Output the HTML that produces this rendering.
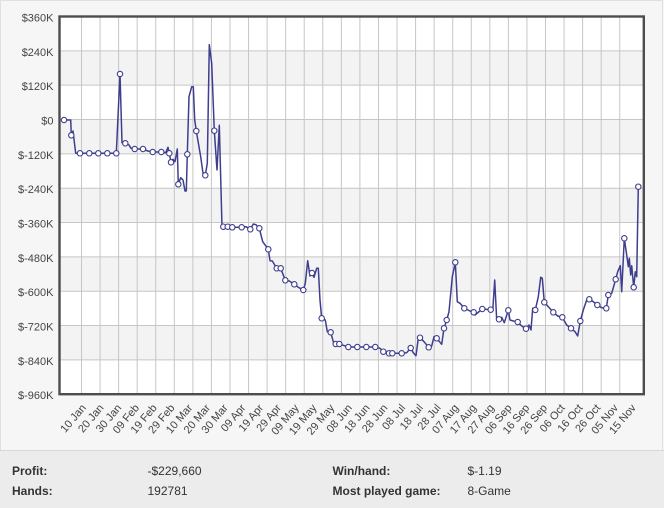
<!DOCTYPE html>
<html><head><meta charset="utf-8"><style>
html,body{margin:0;padding:0;background:#f6f6f6;}
svg{display:block;font-family:"Liberation Sans",Arial,sans-serif;}
</style></head><body>
<svg width="664" height="508" viewBox="0 0 664 508" xmlns="http://www.w3.org/2000/svg">
<rect x="0" y="0" width="664" height="508" fill="#f6f6f6"/>
<rect x="0.5" y="0.5" width="662" height="507" fill="none" stroke="#e0e0e0"/>
<rect x="59.5" y="16.5" width="584.3" height="377.7" fill="#ffffff"/>
<g fill="#f3f3f3">
<rect x="59.5" y="50.84" width="584.3" height="34.34"/>
<rect x="59.5" y="119.52" width="584.3" height="34.34"/>
<rect x="59.5" y="188.2" width="584.3" height="34.34"/>
<rect x="59.5" y="256.88" width="584.3" height="34.34"/>
<rect x="59.5" y="325.56" width="584.3" height="34.34"/>
</g>
<g stroke="#c6c6c6" stroke-width="1">
<line x1="59.5" x2="643.8" y1="50.84" y2="50.84"/>
<line x1="59.5" x2="643.8" y1="85.18" y2="85.18"/>
<line x1="59.5" x2="643.8" y1="119.52" y2="119.52"/>
<line x1="59.5" x2="643.8" y1="153.86" y2="153.86"/>
<line x1="59.5" x2="643.8" y1="188.2" y2="188.2"/>
<line x1="59.5" x2="643.8" y1="222.54" y2="222.54"/>
<line x1="59.5" x2="643.8" y1="256.88" y2="256.88"/>
<line x1="59.5" x2="643.8" y1="291.22" y2="291.22"/>
<line x1="59.5" x2="643.8" y1="325.56" y2="325.56"/>
<line x1="59.5" x2="643.8" y1="359.9" y2="359.9"/>
</g>
<g stroke="#c6c6c6" stroke-width="1">
<line x1="81.5" x2="81.5" y1="16.5" y2="394.2"/>
<line x1="100.06" x2="100.06" y1="16.5" y2="394.2"/>
<line x1="118.62" x2="118.62" y1="16.5" y2="394.2"/>
<line x1="137.18" x2="137.18" y1="16.5" y2="394.2"/>
<line x1="155.74" x2="155.74" y1="16.5" y2="394.2"/>
<line x1="174.3" x2="174.3" y1="16.5" y2="394.2"/>
<line x1="192.86" x2="192.86" y1="16.5" y2="394.2"/>
<line x1="211.42" x2="211.42" y1="16.5" y2="394.2"/>
<line x1="229.98" x2="229.98" y1="16.5" y2="394.2"/>
<line x1="248.54" x2="248.54" y1="16.5" y2="394.2"/>
<line x1="267.1" x2="267.1" y1="16.5" y2="394.2"/>
<line x1="285.66" x2="285.66" y1="16.5" y2="394.2"/>
<line x1="304.22" x2="304.22" y1="16.5" y2="394.2"/>
<line x1="322.78" x2="322.78" y1="16.5" y2="394.2"/>
<line x1="341.34" x2="341.34" y1="16.5" y2="394.2"/>
<line x1="359.9" x2="359.9" y1="16.5" y2="394.2"/>
<line x1="378.46" x2="378.46" y1="16.5" y2="394.2"/>
<line x1="397.02" x2="397.02" y1="16.5" y2="394.2"/>
<line x1="415.58" x2="415.58" y1="16.5" y2="394.2"/>
<line x1="434.14" x2="434.14" y1="16.5" y2="394.2"/>
<line x1="452.7" x2="452.7" y1="16.5" y2="394.2"/>
<line x1="471.26" x2="471.26" y1="16.5" y2="394.2"/>
<line x1="489.82" x2="489.82" y1="16.5" y2="394.2"/>
<line x1="508.38" x2="508.38" y1="16.5" y2="394.2"/>
<line x1="526.94" x2="526.94" y1="16.5" y2="394.2"/>
<line x1="545.5" x2="545.5" y1="16.5" y2="394.2"/>
<line x1="564.06" x2="564.06" y1="16.5" y2="394.2"/>
<line x1="582.62" x2="582.62" y1="16.5" y2="394.2"/>
<line x1="601.18" x2="601.18" y1="16.5" y2="394.2"/>
<line x1="619.74" x2="619.74" y1="16.5" y2="394.2"/>
</g>
<polyline fill="none" stroke="#3e3e8e" stroke-width="1.5" stroke-linejoin="round" points="
64,120 70.7,120 71.3,135.3 73,131 75.7,153.3 80,153.3 89.3,153.3 98.3,153.3 107.3,153.3 116.3,153.3
120,74 122,142.7 125.3,143.3 129,145 131,148.3 134.7,149 143,149 147.7,151 152.7,152 161.3,152 165.7,152.7
168,147.3 169.3,153.3 171,162.3 173,159.3 175,161.7 177.3,149 178.3,184.3 180.7,177.7 183,180 185,191 186.3,191
187.3,154.3 189,96.7 191.7,86.7 193.3,86.7 194.7,120 196.3,131 200.7,156.7 203,173.3 205.3,175.3 207.3,163.3
209.3,44.7 211.7,63.3 214.3,130.7 217,170 219.3,125.3 222,226.7 223.3,226.7 227.7,226.7 232.3,227.3 241.7,227.3
246,226.7 250.3,229.3 253.3,224 256,224.7 259.3,228.3 262.7,241.7 268.3,249.3 270,260.7 272.3,261 276.7,268.3
280.7,268.3 285.3,280.3 289.3,281 294.3,284.3 298.3,287.3 303.3,290 305.3,283.3 307.7,260.7 310,276 312,273
314,277.3 316.7,268.3 318.3,268.3 320,300 321.7,318.3 325.3,320 327.3,331.7 330.7,332.3 333.3,341.7 335.7,344
339.3,344 343.3,345.3 348.3,347 357.3,347 366.3,347 375.3,347 380,348.3 383.3,351.7 389,353.3 392.3,353.3
401.7,353.3 406.7,352.7 410.7,348 413.3,352.7 416,355.7 418.3,338.3 420,337.7 424,341.7 428.7,347.3 431.7,346
434,336.7 436.7,338.3 441.7,344.3 444,328.3 446.7,320 449,311.7 452.3,276.7 455.3,262.3 457.3,301.7 460,303.3
464.3,308.3 470,311 473.7,312.3 475,315 482.3,309 490.7,309.7 492.7,311 494.7,280 496.7,320 499,319.3
501.7,317.3 504.3,322.7 508.3,310.3 510,320 513.3,321 517.7,322 521.7,326 526,328.7 529,325 531,330
532.7,308.3 535.3,310 538.3,296.7 540.7,277.3 542.3,278.3 544.3,302.3 548.3,306.7 553.3,312.3 557.7,316
562.3,317.3 566.7,325 571,328.3 575,331.7 577.7,336 580.3,321 583.3,310 586.7,300 589.3,299.3 593.3,301.7
597.3,305 601.7,307.7 606.3,308.3 608.3,295 611.7,293.3 615.7,279.3 617.7,271.7 620.3,265.7 621.7,291.7
624.3,238.3 626.7,255 628.3,266.7 629.3,258.3 630.7,275 631.7,265.7 633.7,287.3 635.3,271.7 636.7,276.7 638.3,186.7"/>
<g fill="#ffffff" stroke="#3e3e8e" stroke-width="1.1">
<circle cx="64" cy="120" r="2.7"/><circle cx="71.3" cy="135.3" r="2.7"/>
<circle cx="80" cy="153.3" r="2.7"/><circle cx="89.3" cy="153.3" r="2.7"/><circle cx="98.3" cy="153.3" r="2.7"/>
<circle cx="107.3" cy="153.3" r="2.7"/><circle cx="116.3" cy="153.3" r="2.7"/><circle cx="120" cy="74" r="2.7"/>
<circle cx="125.3" cy="143.3" r="2.7"/><circle cx="134.7" cy="149" r="2.7"/><circle cx="143" cy="149" r="2.7"/>
<circle cx="152.7" cy="152" r="2.7"/><circle cx="161.3" cy="152" r="2.7"/><circle cx="169.3" cy="153.3" r="2.7"/>
<circle cx="171" cy="162.3" r="2.7"/><circle cx="178.3" cy="184.3" r="2.7"/><circle cx="187.3" cy="154.3" r="2.7"/>
<circle cx="196.3" cy="131" r="2.7"/><circle cx="205.3" cy="175.3" r="2.7"/><circle cx="214.3" cy="130.7" r="2.7"/>
<circle cx="223.3" cy="226.7" r="2.7"/><circle cx="227.7" cy="226.7" r="2.7"/><circle cx="232.3" cy="227.3" r="2.7"/>
<circle cx="241.7" cy="227.3" r="2.7"/><circle cx="250.3" cy="229.3" r="2.7"/><circle cx="259.3" cy="228.3" r="2.7"/>
<circle cx="268.3" cy="249.3" r="2.7"/><circle cx="276.7" cy="268.3" r="2.7"/><circle cx="280.7" cy="268.3" r="2.7"/>
<circle cx="285.3" cy="280.3" r="2.7"/><circle cx="294.3" cy="284.3" r="2.7"/><circle cx="303.3" cy="290" r="2.7"/>
<circle cx="312" cy="273" r="2.7"/><circle cx="321.7" cy="318.3" r="2.7"/><circle cx="330.7" cy="332.3" r="2.7"/>
<circle cx="335.7" cy="344" r="2.7"/><circle cx="339.3" cy="344" r="2.7"/><circle cx="348.3" cy="347" r="2.7"/>
<circle cx="357.3" cy="347" r="2.7"/><circle cx="366.3" cy="347" r="2.7"/><circle cx="375.3" cy="347" r="2.7"/>
<circle cx="383.3" cy="351.7" r="2.7"/><circle cx="389" cy="353.3" r="2.7"/><circle cx="392.3" cy="353.3" r="2.7"/>
<circle cx="401.7" cy="353.3" r="2.7"/><circle cx="410.7" cy="348" r="2.7"/><circle cx="420" cy="337.7" r="2.7"/>
<circle cx="428.7" cy="347.3" r="2.7"/><circle cx="436.7" cy="338.3" r="2.7"/><circle cx="444" cy="328.3" r="2.7"/>
<circle cx="446.7" cy="320" r="2.7"/><circle cx="455.3" cy="262.3" r="2.7"/><circle cx="464.3" cy="308.3" r="2.7"/>
<circle cx="473.7" cy="312.3" r="2.7"/><circle cx="482.3" cy="309" r="2.7"/><circle cx="490.7" cy="309.7" r="2.7"/>
<circle cx="499" cy="319.3" r="2.7"/><circle cx="508.3" cy="310.3" r="2.7"/><circle cx="517.7" cy="322" r="2.7"/>
<circle cx="526" cy="328.7" r="2.7"/><circle cx="535.3" cy="310" r="2.7"/><circle cx="544.3" cy="302.3" r="2.7"/>
<circle cx="553.3" cy="312.3" r="2.7"/><circle cx="562.3" cy="317.3" r="2.7"/><circle cx="571" cy="328.3" r="2.7"/>
<circle cx="580.3" cy="321" r="2.7"/><circle cx="589.3" cy="299.3" r="2.7"/><circle cx="597.3" cy="305" r="2.7"/>
<circle cx="606.3" cy="308.3" r="2.7"/><circle cx="608.3" cy="295" r="2.7"/><circle cx="615.7" cy="279.3" r="2.7"/>
<circle cx="624.3" cy="238.3" r="2.7"/><circle cx="633.7" cy="287.3" r="2.7"/><circle cx="638.3" cy="186.7" r="2.7"/>
</g>
<rect x="59.5" y="16.5" width="584.3" height="377.7" fill="none" stroke="#4d4d4d" stroke-width="2.4"/>
<g font-size="11" fill="#444" text-anchor="end">
<text x="53.5" y="21.5">$360K</text>
<text x="53.5" y="55.8">$240K</text>
<text x="53.5" y="90.2">$120K</text>
<text x="53.5" y="124.5">$0</text>
<text x="53.5" y="158.9">$-120K</text>
<text x="53.5" y="193.2">$-240K</text>
<text x="53.5" y="227.5">$-360K</text>
<text x="53.5" y="261.9">$-480K</text>
<text x="53.5" y="296.2">$-600K</text>
<text x="53.5" y="330.6">$-720K</text>
<text x="53.5" y="364.9">$-840K</text>
<text x="53.5" y="399.2">$-960K</text>
</g>
<g font-size="11" fill="#444" text-anchor="end">
<text transform="translate(86.5,408) rotate(-50)">10 Jan</text>
<text transform="translate(104.24,408) rotate(-50)">20 Jan</text>
<text transform="translate(121.98,408) rotate(-50)">30 Jan</text>
<text transform="translate(139.72,408) rotate(-50)">09 Feb</text>
<text transform="translate(157.46,408) rotate(-50)">19 Feb</text>
<text transform="translate(175.2,408) rotate(-50)">29 Feb</text>
<text transform="translate(192.94,408) rotate(-50)">10 Mar</text>
<text transform="translate(210.68,408) rotate(-50)">20 Mar</text>
<text transform="translate(228.42,408) rotate(-50)">30 Mar</text>
<text transform="translate(246.16,408) rotate(-50)">09 Apr</text>
<text transform="translate(263.9,408) rotate(-50)">19 Apr</text>
<text transform="translate(281.64,408) rotate(-50)">29 Apr</text>
<text transform="translate(299.38,408) rotate(-50)">09 May</text>
<text transform="translate(317.12,408) rotate(-50)">19 May</text>
<text transform="translate(334.86,408) rotate(-50)">29 May</text>
<text transform="translate(352.6,408) rotate(-50)">08 Jun</text>
<text transform="translate(370.34,408) rotate(-50)">18 Jun</text>
<text transform="translate(388.08,408) rotate(-50)">28 Jun</text>
<text transform="translate(405.82,408) rotate(-50)">08 Jul</text>
<text transform="translate(423.56,408) rotate(-50)">18 Jul</text>
<text transform="translate(441.3,408) rotate(-50)">28 Jul</text>
<text transform="translate(459.04,408) rotate(-50)">07 Aug</text>
<text transform="translate(476.78,408) rotate(-50)">17 Aug</text>
<text transform="translate(494.52,408) rotate(-50)">27 Aug</text>
<text transform="translate(512.26,408) rotate(-50)">06 Sep</text>
<text transform="translate(530,408) rotate(-50)">16 Sep</text>
<text transform="translate(547.74,408) rotate(-50)">26 Sep</text>
<text transform="translate(565.48,408) rotate(-50)">06 Oct</text>
<text transform="translate(583.22,408) rotate(-50)">16 Oct</text>
<text transform="translate(600.96,408) rotate(-50)">26 Oct</text>
<text transform="translate(618.7,408) rotate(-50)">05 Nov</text>
<text transform="translate(636.44,408) rotate(-50)">15 Nov</text>
</g>
<rect x="0" y="450.5" width="664" height="58" fill="#ececec"/>
<line x1="0" x2="664" y1="450.5" y2="450.5" stroke="#d8d8d8"/>
<g font-size="12" fill="#333">
<text x="12" y="475" font-weight="bold">Profit:</text>
<text x="12" y="495" font-weight="bold">Hands:</text>
<text x="147.5" y="475">-$229,660</text>
<text x="147.5" y="495">192781</text>
<text x="332.5" y="475" font-weight="bold">Win/hand:</text>
<text x="332.5" y="495" font-weight="bold">Most played game:</text>
<text x="467.5" y="475">$-1.19</text>
<text x="467.5" y="495">8-Game</text>
</g>
</svg>
</body></html>
